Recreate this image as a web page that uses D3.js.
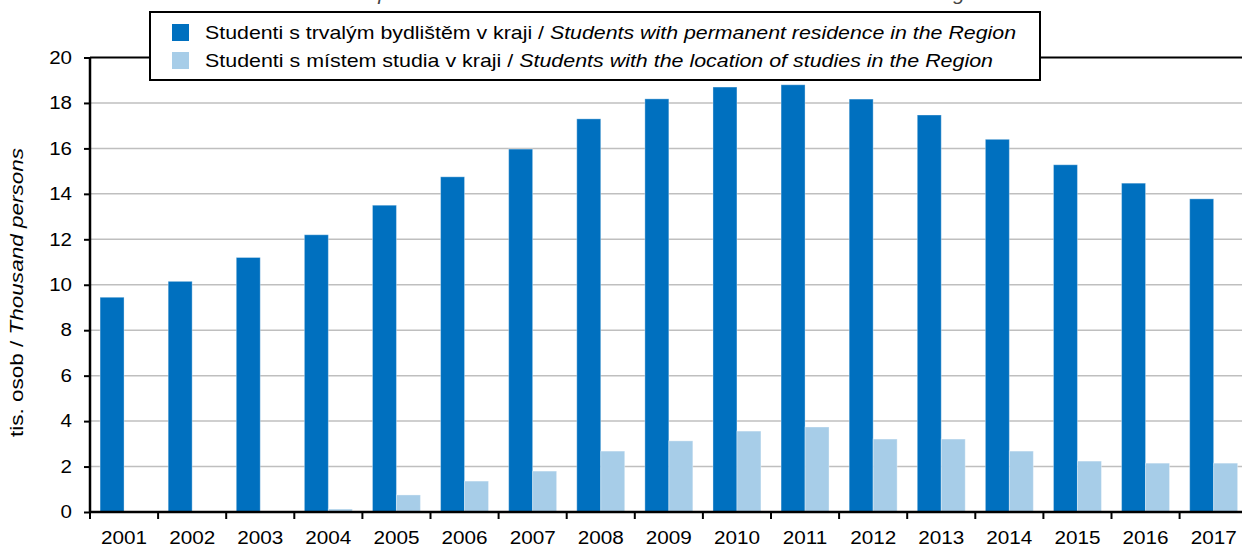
<!DOCTYPE html>
<html>
<head>
<meta charset="utf-8">
<script src="https://cdn.jsdelivr.net/npm/d3@7"></script>
<style>
	body { margin: 0; background: #fff; }
	svg { display: block; font-family: "Liberation Sans", Arial, sans-serif; }
</style>
</head>
<body>
<svg id="chart" width="1242" height="548"></svg>
<script>
'use strict';

var years = ["2001", "2002", "2003", "2004", "2005", "2006", "2007", "2008", "2009",
	"2010", "2011", "2012", "2013", "2014", "2015", "2016", "2017"];
var residenceValues = [9.45, 10.15, 11.2, 12.2, 13.5, 14.75, 15.97, 17.3, 18.18,
	18.7, 18.8, 18.17, 17.47, 16.4, 15.28, 14.47, 13.78];
var studyValues = [0, 0, 0, 0.13, 0.75, 1.36, 1.8, 2.68, 3.13,
	3.56, 3.74, 3.21, 3.21, 2.68, 2.24, 2.15, 2.15];
var yTicks = [0, 2, 4, 6, 8, 10, 12, 14, 16, 18, 20];
var seriesNames = [
	{ cz: "Studenti s trvalým bydlištěm v kraji / ", en: "Students with permanent residence in the Region" },
	{ cz: "Studenti s místem studia v kraji / ", en: "Students with the location of studies in the Region" }
];
var titleText = "Students with permanent residence and with the location of studies in the Region";
var yLabelCz = "tis. osob / ";
var yLabelEn = "Thousand persons";

var colors = ["#0070bf", "#a7cde8"];

// the original text renders noticeably wider than Liberation Sans
function stretch(sel, k) {
	sel.each(function () {
		let w = this.getComputedTextLength();
		d3.select(this)
			.attr("textLength", w * k)
			.attr("lengthAdjust", "spacingAndGlyphs");
	});
}

function drawChart() {
	let svg = d3.select("#chart");
	let left = 90, top = 57.5, bottom = 512, step = 68.1;

	let x = d3.scaleBand()
		.domain(years)
		.range([left, left + step * years.length])
		.padding(0);
	let sub = d3.scaleBand()
		.domain([0, 1])
		.range([0, x.bandwidth()])
		.paddingInner(0)
		.paddingOuter(0.42);
	let y = d3.scaleLinear()
		.domain([0, 20])
		.range([bottom, top]);
	let right = x.range()[1];

	// clipped title above the plot
	svg.append("text")
		.attr("x", 620)
		.attr("y", -0.5)
		.attr("text-anchor", "middle")
		.attr("font-size", "18px")
		.attr("font-style", "italic")
		.attr("fill", "#444")
		.attr("textLength", 745)
		.attr("lengthAdjust", "spacingAndGlyphs")
		.text(titleText);

	// gridlines
	svg.append("g")
		.selectAll("line")
		.data(yTicks.filter(d => d > 0 && d < 20))
		.enter().append("line")
		.attr("x1", left)
		.attr("x2", right)
		.attr("y1", d => y(d))
		.attr("y2", d => y(d))
		.attr("stroke", "#bfbfbf")
		.attr("stroke-width", 1.5);

	svg.append("line")
		.attr("x1", left)
		.attr("x2", right)
		.attr("y1", y(20))
		.attr("y2", y(20))
		.attr("stroke", "#000")
		.attr("stroke-width", 2);

	let series = [residenceValues, studyValues];
	series.forEach(function (values, si) {
		svg.append("g")
			.selectAll("rect")
			.data(values)
			.enter().append("rect")
			.attr("x", (d, i) => x(years[i]) + sub(si))
			.attr("y", d => y(d))
			.attr("width", sub.bandwidth())
			.attr("height", d => Math.max(0, y(0) - y(d)))
			.attr("fill", colors[si])
			.attr("stroke", d => d > 0 ? "rgba(255,255,255,0.35)" : "none")
			.attr("stroke-width", 1);
	});

	// y axis
	let yAxis = svg.append("g")
		.attr("transform", "translate(" + left + ",0)")
		.call(d3.axisLeft(y).tickValues(yTicks).tickSize(6).tickPadding(12).tickFormat(d3.format("d")));
	yAxis.select(".domain").attr("stroke", "#000").attr("stroke-width", 2.5)
		.attr("d", "M0," + top + "V" + bottom);
	yAxis.selectAll(".tick line").attr("stroke", "#000").attr("stroke-width", 2);
	yAxis.selectAll(".tick text").attr("font-size", "18px").attr("fill", "#000")
		.attr("font-family", "Liberation Sans, Arial, sans-serif")
		.call(stretch, 1.14);

	// x axis
	let xAxis = svg.append("g")
		.attr("transform", "translate(0," + bottom + ")")
		.call(d3.axisBottom(x).tickSize(0).tickPadding(19));
	xAxis.select(".domain").attr("stroke", "#000").attr("stroke-width", 2.5)
		.attr("d", "M" + left + ",0H" + right);
	xAxis.selectAll(".tick text").attr("font-size", "18px").attr("fill", "#000")
		.attr("font-family", "Liberation Sans, Arial, sans-serif")
		.call(stretch, 1.15);
	xAxis.append("g")
		.selectAll("line")
		.data(years)
		.enter().append("line")
		.attr("x1", d => x(d))
		.attr("x2", d => x(d))
		.attr("y1", 0)
		.attr("y2", 7)
		.attr("stroke", "#000")
		.attr("stroke-width", 2);

	// y label
	let yl = svg.append("text")
		.attr("transform", "translate(23," + 292.5 + ") rotate(-90)")
		.attr("text-anchor", "middle")
		.attr("font-size", "17.5px")
		.attr("fill", "#000")
		.attr("textLength", 289)
		.attr("lengthAdjust", "spacingAndGlyphs");
	yl.append("tspan").text(yLabelCz);
	yl.append("tspan").attr("font-style", "italic").text(yLabelEn);

	// legend
	let lg = svg.append("g");
	lg.append("rect")
		.attr("x", 150)
		.attr("y", 12)
		.attr("width", 890)
		.attr("height", 68)
		.attr("fill", "#fff")
		.attr("stroke", "#000")
		.attr("stroke-width", 2);
	let lineEnds = [1016, 993];
	seriesNames.forEach(function (s, i) {
		let cy = 32.5 + i * 28;
		lg.append("rect")
			.attr("x", 172)
			.attr("y", cy - 8.5)
			.attr("width", 17)
			.attr("height", 17)
			.attr("fill", colors[i]);
		let t = lg.append("text")
			.attr("x", 205)
			.attr("y", cy + 6.5)
			.attr("font-size", "19px")
			.attr("fill", "#000")
			.attr("textLength", lineEnds[i] - 205)
			.attr("lengthAdjust", "spacingAndGlyphs");
		t.append("tspan").text(s.cz);
		t.append("tspan").attr("font-style", "italic").text(s.en);
	});
}

drawChart();
</script>
</body>
</html>
